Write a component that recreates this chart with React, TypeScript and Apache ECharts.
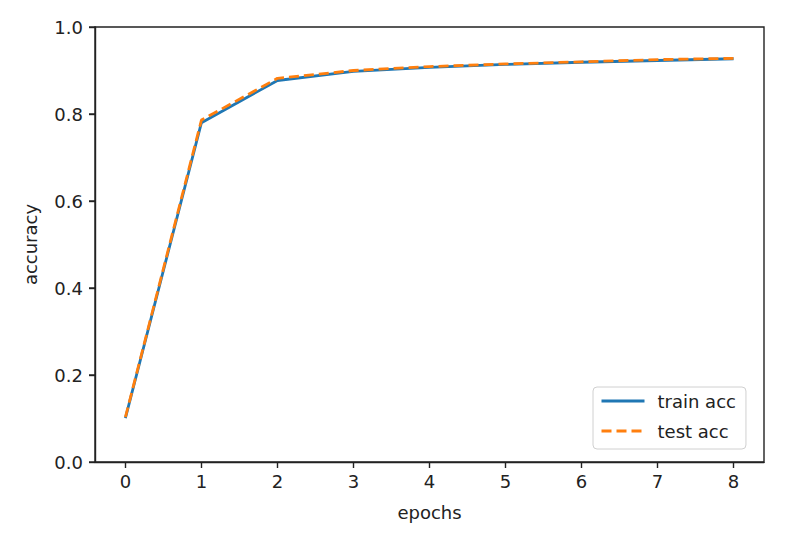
import React, { useEffect, useRef } from "react";
import * as echarts from "echarts";

const epochs = [0, 1, 2, 3, 4, 5, 6, 7, 8];
const trainAcc = [0.101, 0.78, 0.877, 0.898, 0.907, 0.914, 0.919, 0.923, 0.927];
const testAcc = [0.103, 0.786, 0.882, 0.9, 0.909, 0.915, 0.92, 0.925, 0.928];
const xTicks = [0, 1, 2, 3, 4, 5, 6, 7, 8];
const yTicks = [0, 0.2, 0.4, 0.6, 0.8, 1.0];
const X_MIN = -0.4;
const X_MAX = 8.4;
const FONT = "DejaVu Sans";

export default function App() {
  const ref = useRef<HTMLDivElement>(null);
  useEffect(() => {
    if (!ref.current) return;
    const chart = echarts.init(ref.current, null, { renderer: "svg" });
    const axisLabelStyle = { color: "#222", fontFamily: FONT, fontSize: 18 };
    const spine = { color: "#222", width: 1.4 };
    chart.setOption({
      animation: false,
      backgroundColor: "#fff",
      grid: {
        left: 95,
        right: 40,
        top: 27,
        bottom: 84,
        show: true,
        borderColor: "#222",
        borderWidth: 1.4,
        backgroundColor: "transparent",
      },
      legend: {
        left: 593,
        top: 387,
        orient: "vertical",
        itemWidth: 43,
        itemHeight: 18,
        itemGap: 12,
        padding: [5, 10, 9, 7],
        backgroundColor: "rgba(255,255,255,0.8)",
        borderColor: "#d0d0d0",
        borderWidth: 1,
        borderRadius: 4,
        itemStyle: { opacity: 0 },
        lineStyle: { width: 3 },
        textStyle: { color: "#222", fontFamily: FONT, fontSize: 18, padding: [0, 0, 0, 8] },
        data: ["train acc", "test acc"],
      },
      xAxis: {
        type: "value",
        min: X_MIN,
        max: X_MAX,
        name: "epochs",
        nameLocation: "middle",
        nameGap: 41,
        nameTextStyle: { color: "#222", fontFamily: FONT, fontSize: 18 },
        axisLine: { show: true, onZero: false, lineStyle: spine },
        splitLine: { show: false },
        axisTick: {
          show: true,
          length: 6,
          customValues: xTicks,
          lineStyle: spine,
        },
        axisLabel: { ...axisLabelStyle, margin: 10, customValues: xTicks },
      },
      yAxis: {
        type: "value",
        min: 0,
        max: 1,
        interval: 0.2,
        position: "left",
        name: "accuracy",
        nameLocation: "middle",
        nameGap: 56,
        nameTextStyle: { color: "#222", fontFamily: FONT, fontSize: 18 },
        axisLine: { show: true, onZero: false, lineStyle: spine },
        splitLine: { show: false },
        axisTick: { show: true, inside: false, length: 6, lineStyle: spine },
        axisLabel: {
          ...axisLabelStyle,
          margin: 12,
          formatter: (v: number) => v.toFixed(1),
        },
      },
      series: [
        {
          name: "train acc",
          type: "line",
          symbol: "none",
          data: epochs.map((e, i) => [e, trainAcc[i]]),
          lineStyle: { color: "#1f77b4", width: 2.8 },
          itemStyle: { color: "#1f77b4" },
        },
        {
          name: "test acc",
          type: "line",
          symbol: "none",
          data: epochs.map((e, i) => [e, testAcc[i]]),
          lineStyle: { color: "#ff7f0e", width: 2.8, type: [10, 5] },
          itemStyle: { color: "#ff7f0e" },
        },
      ],
    });
    // y-axis tick marks placed through the chart's own scale
    const tickLines = yTicks.map((v) => {
      const p = chart.convertToPixel({ gridIndex: 0 }, [X_MIN, v]) as number[];
      return {
        type: "line",
        silent: true,
        shape: { x1: p[0] - 6, y1: p[1], x2: p[0], y2: p[1] },
        style: { stroke: "#222", lineWidth: 1.4 },
      };
    });
    chart.setOption({ graphic: tickLines });
    return () => chart.dispose();
  }, []);
  return (
    <div
      ref={ref}
      style={{ position: "fixed", left: 0, top: 0, width: 804, height: 546 }}
    />
  );
}
